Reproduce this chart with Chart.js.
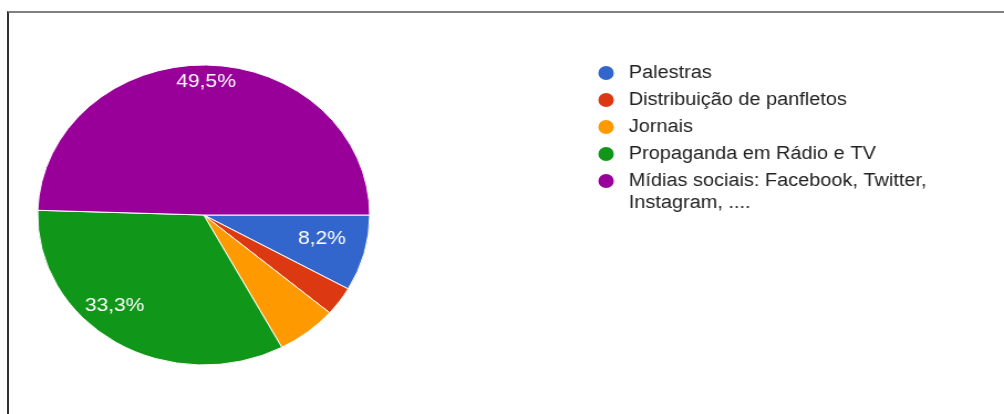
<!DOCTYPE html>
<html>
<head>
<meta charset="utf-8">
<script src="https://cdn.jsdelivr.net/npm/chart.js@4.4.0/dist/chart.umd.min.js"></script>
<style>
    html, body { margin: 0; padding: 0; background: #fff; overflow: hidden; }
    body { width: 1004px; height: 414px; position: relative; }
    #frame {
        position: absolute; left: 7px; top: 11px; right: 0; bottom: 0;
        border-left: 2px solid #333; border-top: 2px solid #808080;
    }
    /* the reference is stretched sideways, so the chart is drawn narrower and scaled */
    #stage {
        position: absolute; left: 0; top: 0; width: 907px; height: 414px;
        transform: scaleX(1.107); transform-origin: 0 0;
    }
</style>
</head>
<body>
<div id="frame"></div>
<div id="stage"><canvas id="pieChart"></canvas></div>
<script>
// Chart data
const categories = [
    'Palestras',
    'Distribuição de panfletos',
    'Jornais',
    'Propaganda em Rádio e TV',
    'Mídias sociais: Facebook, Twitter, Instagram, ....'
];
const values = [8.2, 3.1, 5.9, 33.3, 49.5];
const colors = ['#3366cc', '#dc3912', '#ff9900', '#109618', '#990099'];

// Styling
const FONT = 'Arial, "Liberation Sans", sans-serif';
const labelFontSize = 19;
const legendFontSize = 18;
const minLabelValue = 7;
// [fraction along the slice angle, fraction of radius] for each slice text
const labelPlacement = [[0.43, 0.73], null, null, [0.58, 0.81], [0.5, 0.89]];

const legendLayout = { markerX: 547.5, textX: 568, top: 73, rowHeight: 27, lineHeight: 22, maxWidth: 300, markerRadius: 7 };

/**
 * Percent text as shown in the reference (comma decimal)
 */
function formatPct(v) {
    return v.toFixed(1).replace('.', ',') + '%';
}

/**
 * Split a legend label into lines that fit maxWidth
 */
function wrapText(ctx, text, maxWidth) {
    const words = text.split(' ');
    const lines = [];
    let line = '';
    words.forEach(w => {
        const test = line ? line + ' ' + w : w;
        if (line && ctx.measureText(test).width > maxWidth) {
            lines.push(line);
            line = w;
        } else {
            line = test;
        }
    });
    if (line) lines.push(line);
    return lines;
}

// Percent text inside the bigger slices
const sliceLabels = {
    id: 'sliceLabels',
    afterDatasetsDraw(chart) {
        const ctx = chart.ctx;
        const meta = chart.getDatasetMeta(0);
        ctx.save();
        ctx.font = `${labelFontSize}px ${FONT}`;
        ctx.fillStyle = '#ffffff';
        ctx.textAlign = 'center';
        ctx.textBaseline = 'middle';
        meta.data.forEach((arc, i) => {
            const place = labelPlacement[i];
            if (!place || values[i] < minLabelValue) return;
            const p = arc.getProps(['x', 'y', 'startAngle', 'endAngle', 'outerRadius'], true);
            const a = p.startAngle + (p.endAngle - p.startAngle) * place[0];
            const r = p.outerRadius * place[1];
            ctx.fillText(formatPct(values[i]), p.x + Math.cos(a) * r, p.y + Math.sin(a) * r);
        });
        ctx.restore();
    }
};

// Legend on the right, top aligned, with wrapped text
const sideLegend = {
    id: 'sideLegend',
    afterDraw(chart) {
        const ctx = chart.ctx;
        const L = legendLayout;
        const ds = chart.data.datasets[0];
        ctx.save();
        ctx.font = `${legendFontSize}px ${FONT}`;
        ctx.textBaseline = 'middle';
        ctx.textAlign = 'left';
        let y = L.top;
        chart.data.labels.forEach((label, i) => {
            ctx.fillStyle = ds.backgroundColor[i];
            ctx.beginPath();
            ctx.arc(L.markerX, y, L.markerRadius, 0, Math.PI * 2);
            ctx.fill();
            ctx.fillStyle = '#222222';
            const lines = wrapText(ctx, label, L.maxWidth);
            lines.forEach((ln, j) => ctx.fillText(ln, L.textX, y + j * L.lineHeight));
            y += L.rowHeight + (lines.length - 1) * L.lineHeight;
        });
        ctx.restore();
    }
};

const pieCtx = document.getElementById('pieChart');
const pieChart = new Chart(pieCtx, {
    type: 'pie',
    data: {
        labels: categories,
        datasets: [{
            data: values,
            backgroundColor: colors,
            borderColor: '#ffffff',
            borderWidth: 1,
            radius: 150
        }]
    },
    options: {
        responsive: true,
        maintainAspectRatio: false,
        animation: false,
        devicePixelRatio: 1,
        rotation: 90,
        layout: {
            padding: { left: 34, right: 573, top: 65, bottom: 49 }
        },
        plugins: {
            legend: { display: false },
            tooltip: { enabled: false }
        }
    },
    plugins: [sliceLabels, sideLegend]
});
</script>
</body>
</html>
